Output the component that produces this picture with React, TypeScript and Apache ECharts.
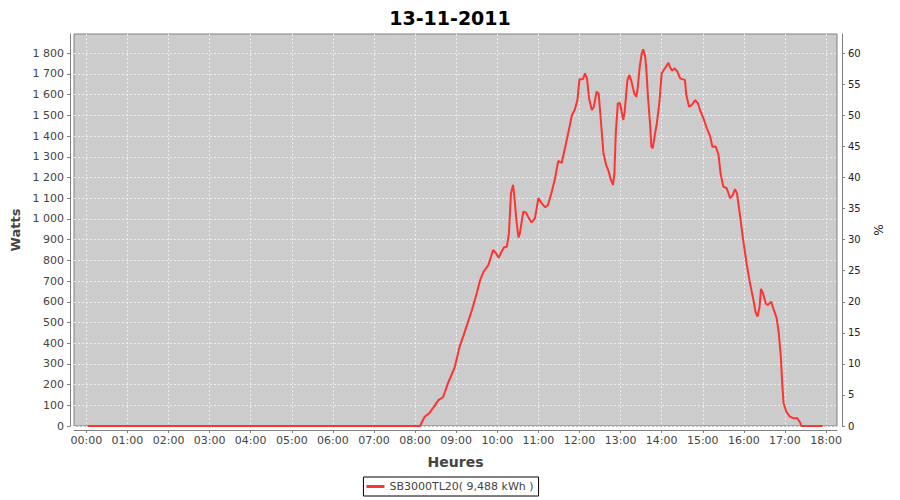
import React, { useEffect, useRef } from "react";
import * as echarts from "echarts";

const chartTitle = "13-11-2011";
const seriesName = "SB3000TL20( 9,488 kWh )";
const leftAxisName = "Watts";
const rightAxisName = "%";
const xAxisName = "Heures";

const times = [
  "00:02", "08:07", "08:14", "08:21", "08:28", "08:34", "08:41", "08:48", "08:53", "08:58",
  "09:05", "09:10", "09:15", "09:23", "09:30", "09:35", "09:40", "09:47", "09:51", "09:54",
  "09:58", "10:02", "10:06", "10:10", "10:14", "10:17", "10:20", "10:23", "10:25", "10:28",
  "10:31", "10:33", "10:38", "10:42", "10:45", "10:50", "10:55", "11:00", "11:05", "11:10",
  "11:14", "11:19", "11:24", "11:29", "11:34", "11:39", "11:44", "11:49", "11:53", "11:57",
  "12:00", "12:05", "12:08", "12:11", "12:14", "12:18", "12:21", "12:25", "12:28", "12:32",
  "12:35", "12:39", "12:42", "12:46", "12:49", "12:51", "12:53", "12:56", "12:59", "13:04",
  "13:06", "13:10", "13:13", "13:16", "13:20", "13:23", "13:25", "13:28", "13:31", "13:33",
  "13:36", "13:38", "13:40", "13:43", "13:45", "13:47", "13:50", "13:53", "13:57", "14:00",
  "14:03", "14:07", "14:10", "14:12", "14:15", "14:19", "14:23", "14:27", "14:31", "14:34",
  "14:36", "14:40", "14:44", "14:49", "14:53", "14:56", "15:01", "15:06", "15:11", "15:14",
  "15:19", "15:23", "15:26", "15:30", "15:35", "15:40", "15:44", "15:47", "15:50", "15:54",
  "15:59", "16:04", "16:09", "16:14", "16:17", "16:20", "16:23", "16:25", "16:28", "16:32",
  "16:35", "16:40", "16:43", "16:48", "16:51", "16:54", "16:56", "16:58", "17:02", "17:07",
  "17:13", "17:18", "17:22", "17:24", "17:55"
];

const watts = [
  0, 0, 45, 63, 95, 125, 140, 207, 245, 286,
  383, 430, 480, 560, 641, 705, 745, 777, 820, 850,
  835, 812, 840, 863, 866, 930, 1124, 1164, 1107, 990,
  910, 930, 1035, 1030, 1011, 983, 1003, 1100, 1075, 1056,
  1067, 1124, 1190, 1280, 1270, 1345, 1421, 1502, 1526, 1574,
  1674, 1674, 1703, 1679, 1582, 1526, 1542, 1614, 1606, 1445,
  1317, 1260, 1236, 1188, 1164, 1220, 1413, 1558, 1560, 1478,
  1518, 1671, 1695, 1663, 1606, 1590, 1631, 1735, 1800, 1819,
  1783, 1703, 1590, 1462, 1349, 1341, 1405, 1462, 1574, 1703,
  1719, 1738, 1754, 1735, 1716, 1727, 1711, 1679, 1674, 1671,
  1598, 1542, 1550, 1574, 1558, 1526, 1486, 1437, 1397, 1349,
  1350, 1310, 1220, 1156, 1148, 1100, 1116, 1144, 1124, 1027,
  898, 786, 689, 608, 552, 528, 576, 662, 641, 592,
  584, 600, 568, 520, 448, 335, 206, 110, 69, 45,
  37, 37, 18, 0, 0
];

const xTickMinutes = [0, 60, 120, 180, 240, 300, 360, 420, 480, 540, 600, 660, 720, 780, 840, 900, 960, 1020, 1080];
const wattTicks = [0, 100, 200, 300, 400, 500, 600, 700, 800, 900, 1000, 1100, 1200, 1300, 1400, 1500, 1600, 1700, 1800];
const percentTicks = [0, 5, 10, 15, 20, 25, 30, 35, 40, 45, 50, 55, 60];

const toMinutes = (t: string) => {
  const [h, m] = t.split(":").map(Number);
  return h * 60 + m;
};

const fmtTime = (v: number) => {
  const h = Math.floor(v / 60);
  const m = Math.round(v - h * 60);
  return String(h).padStart(2, "0") + ":" + String(m).padStart(2, "0");
};

const fmtWatts = (v: number) => {
  if (v >= 1000) {
    return String(Math.floor(v / 1000)) + " " + String(v % 1000).padStart(3, "0");
  }
  return String(v);
};

const FONT = "DejaVu Sans";
const AXIS_COLOR = "#808080";
const LABEL_COLOR = "#444444";

export default function App() {
  const ref = useRef<HTMLDivElement>(null);

  useEffect(() => {
    if (!ref.current) return;
    const chart = echarts.init(ref.current, undefined, { renderer: "svg" });
    const data = times.map((t, i) => [toMinutes(t), watts[i]]);
    const gridLine = { show: true, lineStyle: { color: "#eeeeee", type: [2, 2], width: 1 } };

    chart.setOption({
      animation: false,
      backgroundColor: "#ffffff",
      title: {
        text: chartTitle,
        left: "center",
        top: 3,
        textStyle: { fontFamily: FONT, fontWeight: "bold", fontSize: 19, color: "#000000" },
      },
      grid: {
        left: 74,
        right: 63,
        top: 34,
        bottom: 74,
        show: true,
        backgroundColor: "#cccccc",
        borderColor: AXIS_COLOR,
        borderWidth: 1,
      },
      xAxis: {
        type: "value",
        min: -18,
        max: 1096,
        offset: 4,
        name: xAxisName,
        nameLocation: "middle",
        nameGap: 25,
        nameTextStyle: { fontFamily: FONT, fontWeight: "bold", fontSize: 14, color: LABEL_COLOR },
        axisLine: { show: true, onZero: false, lineStyle: { color: AXIS_COLOR } },
        axisTick: { show: true, length: 3, customValues: xTickMinutes, lineStyle: { color: AXIS_COLOR } },
        axisLabel: {
          customValues: xTickMinutes,
          formatter: (v: number) => fmtTime(v),
          fontFamily: FONT,
          fontSize: 11,
          color: LABEL_COLOR,
          margin: 5,
        },
        splitLine: gridLine,
      },
      yAxis: [
        {
          type: "value",
          position: "left",
          min: 0,
          max: 1893,
          offset: 4,
          name: leftAxisName,
          nameLocation: "middle",
          nameGap: 41,
          nameRotate: 90,
          nameTextStyle: { fontFamily: FONT, fontWeight: "bold", fontSize: 13, color: LABEL_COLOR },
          axisLine: { show: true, onZero: false, lineStyle: { color: AXIS_COLOR } },
          axisTick: { show: true, length: 3, customValues: wattTicks, lineStyle: { color: AXIS_COLOR } },
          axisLabel: {
            customValues: wattTicks,
            formatter: (v: number) => fmtWatts(v),
            fontFamily: FONT,
            fontSize: 11,
            color: LABEL_COLOR,
            margin: 6,
          },
          splitLine: gridLine,
        },
        {
          type: "value",
          position: "right",
          min: 0,
          max: 63.1,
          offset: 5,
          name: rightAxisName,
          nameLocation: "middle",
          nameGap: 25,
          nameRotate: -90,
          nameTextStyle: { fontFamily: FONT, fontSize: 12, color: "#222222" },
          axisLine: { show: true, onZero: false, lineStyle: { color: AXIS_COLOR } },
          axisTick: { show: true, length: 3, customValues: percentTicks, lineStyle: { color: AXIS_COLOR } },
          axisLabel: {
            customValues: percentTicks,
            fontFamily: FONT,
            fontSize: 10,
            color: "#222222",
            margin: 6,
          },
          splitLine: { show: false },
        },
      ],
      legend: {
        top: 477,
        left: "center",
        borderColor: "#000000",
        borderWidth: 1,
        padding: [4, 5, 4, 3],
        itemWidth: 18,
        itemHeight: 3,
        itemGap: 4,
        icon: "rect",
        textStyle: { fontFamily: FONT, fontSize: 11, color: LABEL_COLOR },
        data: [seriesName],
      },
      series: [
        {
          name: seriesName,
          type: "line",
          yAxisIndex: 0,
          data,
          symbol: "none",
          showSymbol: false,
          clip: true,
          lineStyle: { color: "#ff3333", width: 2 },
          itemStyle: { color: "#ff3333" },
        },
      ],
    });

    return () => chart.dispose();
  }, []);

  return <div ref={ref} style={{ position: "fixed", left: 0, top: 0, width: 900, height: 500 }} />;
}
